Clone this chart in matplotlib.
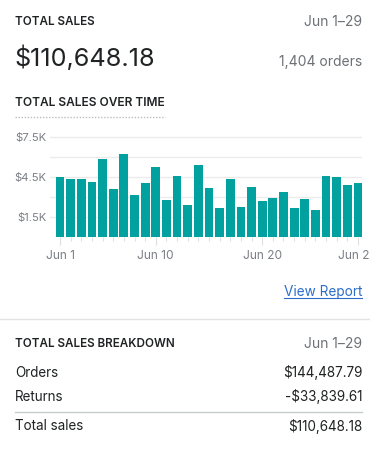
import matplotlib
matplotlib.use("Agg")
import matplotlib.pyplot as plt
from matplotlib.lines import Line2D

plt.rcParams['font.family'] = ['Inter', 'DejaVu Sans']

# daily total sales, Jun 1 - Jun 29
days = list(range(1, 30))
sales = [4525, 4375, 4375, 4150, 5875, 3625, 6175, 3175, 4075, 5275,
         2800, 4600, 2425, 5425, 3700, 2200, 4375, 2275, 3775, 2725,
         2950, 3400, 2200, 2875, 2050, 4600, 4525, 3925, 4075]
grid_vals = [1500, 3000, 4500, 6000, 7500]
ytick_labels = ['$1.5K', '', '$4.5K', '', '$7.5K']
xtick_days = [1, 10, 20, 29]
xtick_labels = ['Jun 1', 'Jun 10', 'Jun 20', 'Jun 29']

breakdown_labels = ['Orders', 'Returns', 'Total sales']
breakdown_values = ['$144,487.79', '-$33,839.61', '$110,648.18']

W, H = 370, 450
DARK = '#202223'
GRAY = '#6d7175'
TEAL = '#00a19f'


def fx(px):
    return px / W


def fy(py):
    return 1 - py / H


fig = plt.figure(figsize=(3.7, 4.5), dpi=100)

# header
fig.text(fx(15), fy(22), 'TOTAL SALES', fontsize=8.4, fontweight='semibold',
         color=DARK, va='center')
fig.text(fx(362), fy(22), 'Jun 1\u201329', fontsize=10, color=GRAY,
         ha='right', va='center')
fig.text(fx(14), fy(58), '$110,648.18', fontsize=18.2, color=DARK, va='center')
fig.text(fx(362), fy(62), '1,404 orders', fontsize=10, color=GRAY,
         ha='right', va='center')
fig.text(fx(15), fy(103), 'TOTAL SALES OVER TIME', fontsize=8.6,
         fontweight='semibold', color=DARK, va='center')
fig.add_artist(Line2D([fx(15), fx(165)], [fy(117), fy(117)], color='#babec3',
                      lw=1, ls=(0, (1, 1.2))))

# chart
ax = fig.add_axes([fx(50), fy(237.3), fx(362) - fx(50), (237.3 - 130) / H])
ax.bar(days, sales, width=0.82, color=TEAL, zorder=2)
ax.set_ylim(0, 8000)
ax.set_xlim(1 - 10 / 10.64, 29 + 4 / 10.64)
ax.set_yticks(grid_vals)
ax.set_yticklabels(ytick_labels)
ax.grid(axis='y', color='#ebebeb', lw=1, zorder=0)
ax.tick_params(axis='y', length=0, pad=2.5, labelsize=8.1, labelcolor='#7a7f85')
ax.set_xticks(xtick_days)
ax.set_xticklabels(xtick_labels)
ax.set_xticks(days, minor=True)
ax.tick_params(axis='x', which='major', length=6, width=0.8, color='#dcdfe3',
               pad=3, labelsize=8.6, labelcolor='#7a7f85')
ax.tick_params(axis='x', which='minor', length=3, width=0.8, color='#dcdfe3')
for s in ax.spines.values():
    s.set_visible(False)

# link
link = fig.text(fx(362), fy(292), 'View Report', fontsize=9.8, color='#2c6ecb',
                ha='right', va='center')
fig.canvas.draw()
bb = link.get_window_extent()
fig.add_artist(Line2D([bb.x0 / W, bb.x1 / W], [fy(298), fy(298)],
                      color='#2c6ecb', lw=0.8))

# separator
fig.add_artist(Line2D([0, 1], [fy(318.5), fy(318.5)], color='#e1e3e5', lw=1))

# breakdown
fig.text(fx(15), fy(344), 'TOTAL SALES BREAKDOWN', fontsize=8.4,
         fontweight='semibold', color=DARK, va='center')
fig.text(fx(362), fy(344), 'Jun 1\u201329', fontsize=10, color=GRAY,
         ha='right', va='center')
row_y = [373, 397, 426]
for lab, val, y in zip(breakdown_labels, breakdown_values, row_y):
    fig.text(fx(15), fy(y), lab, fontsize=9.7, color=DARK, va='center')
    fig.text(fx(362), fy(y), val, fontsize=9.7, color=DARK, ha='right',
             va='center')
fig.add_artist(Line2D([fx(15), fx(362)], [fy(411.5), fy(411.5)],
                      color='#c9cccf', lw=1))

fig.savefig('out.png', dpi=100)
